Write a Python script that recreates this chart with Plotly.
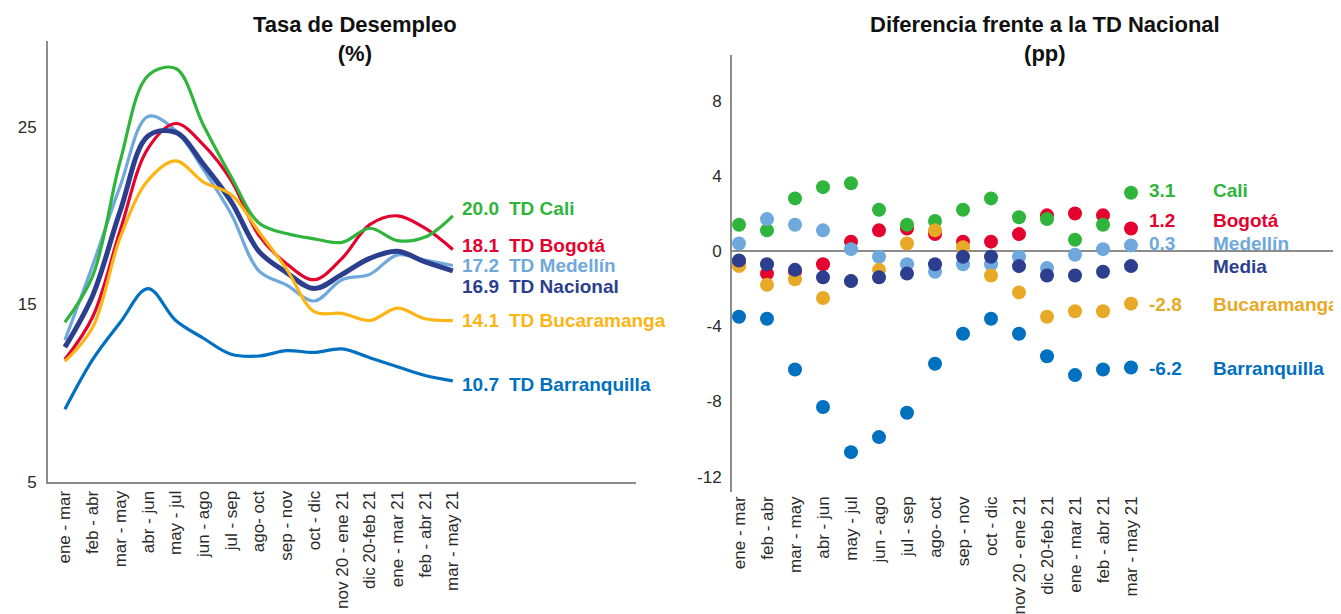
import plotly.graph_objects as go

# page offset of the plot div (default body margin) and figure size
OX, OY = 8, 8
FW, FH = 1341 - OX, 614 - OY

categories = ["ene - mar", "feb - abr", "mar - may", "abr - jun", "may - jul", "jun - ago",
              "jul - sep", "ago- oct", "sep - nov", "oct - dic", "nov 20 - ene 21",
              "dic 20-feb 21", "ene - mar 21", "feb - abr 21", "mar - may 21"]

# Left chart: unemployment rate (%)
td_nacional     = [12.6, 15.5, 20.3, 24.5, 24.7, 22.9, 20.8, 18.0, 16.8, 15.9, 16.7, 17.6, 18.0, 17.4, 16.9]
td_cali         = [14.0, 16.6, 23.1, 27.9, 28.3, 25.1, 22.2, 19.6, 19.0, 18.7, 18.5, 19.3, 18.6, 18.8, 20.0]
td_bogota       = [11.9, 14.3, 19.2, 23.8, 25.2, 24.0, 22.0, 18.9, 17.3, 16.4, 17.6, 19.5, 20.0, 19.3, 18.1]
td_medellin     = [13.0, 17.2, 21.7, 25.6, 24.8, 22.6, 20.1, 16.9, 16.1, 15.2, 16.4, 16.7, 17.8, 17.5, 17.2]
td_bucaramanga  = [11.8, 13.7, 18.8, 22.0, 23.1, 21.9, 21.2, 19.1, 17.0, 14.6, 14.5, 14.1, 14.8, 14.2, 14.1]
td_barranquilla = [9.1, 11.9, 14.0, 15.9, 14.1, 13.1, 12.2, 12.1, 12.4, 12.3, 12.5, 12.0, 11.5, 11.0, 10.7]

# Right chart: difference vs national (pp)
dif_cali         = [1.4, 1.1, 2.8, 3.4, 3.6, 2.2, 1.4, 1.6, 2.2, 2.8, 1.8, 1.7, 0.6, 1.4, 3.1]
dif_bogota       = [-0.7, -1.2, -1.1, -0.7, 0.5, 1.1, 1.2, 0.9, 0.5, 0.5, 0.9, 1.9, 2.0, 1.9, 1.2]
dif_medellin     = [0.4, 1.7, 1.4, 1.1, 0.1, -0.3, -0.7, -1.1, -0.7, -0.7, -0.3, -0.9, -0.2, 0.1, 0.3]
dif_media        = [-0.5, -0.7, -1.0, -1.4, -1.6, -1.4, -1.2, -0.7, -0.3, -0.3, -0.8, -1.3, -1.3, -1.1, -0.8]
dif_bucaramanga  = [-0.8, -1.8, -1.5, -2.5, -1.6, -1.0, 0.4, 1.1, 0.2, -1.3, -2.2, -3.5, -3.2, -3.2, -2.8]
dif_barranquilla = [-3.5, -3.6, -6.3, -8.3, -10.7, -9.9, -8.6, -6.0, -4.4, -3.6, -4.4, -5.6, -6.6, -6.3, -6.2]

left_ticks = [5, 15, 25]
left_ticktext = ["5", "15", "25"]
right_ticks = [-12, -8, -4, 0, 4, 8]
right_ticktext = ["-12", "-8", "-4", "0", "4", "8"]

GREEN = "#2fb43c"
RED = "#e4032e"
LBLUE = "#6fa8dc"
NAVY = "#2b3f8e"
YELLOW = "#fdb515"
GOLD = "#e8a926"
BLUE = "#0070c0"

FONT = "Liberation Sans, Arial, sans-serif"


def px(x):
    return (x - OX) / FW


def py(y):
    return 1 - (y - OY) / FH


# (name, values, color, width, label y offset)
left_series = [
    ("TD Barranquilla", td_barranquilla, BLUE, 3.2, -0.2),
    ("TD Medellín", td_medellin, LBLUE, 3.2, 0.0),
    ("TD Bogotá", td_bogota, RED, 3.2, 0.25),
    ("TD Nacional", td_nacional, NAVY, 5.0, -0.9),
    ("TD Bucaramanga", td_bucaramanga, YELLOW, 3.2, 0.0),
    ("TD Cali", td_cali, GREEN, 3.2, 0.4),
]

right_series = [
    ("Bogotá", dif_bogota, RED, 0.45, True),
    ("Cali", dif_cali, GREEN, 0.1, True),
    ("Medellín", dif_medellin, LBLUE, 0.1, True),
    ("Bucaramanga", dif_bucaramanga, GOLD, -0.05, True),
    ("Media", dif_media, NAVY, 0.0, False),
    ("Barranquilla", dif_barranquilla, BLUE, -0.05, True),
]

fig = go.Figure()

for name, vals, col, w, dy in left_series:
    fig.add_trace(go.Scatter(x=categories, y=vals, mode="lines", name=name,
                             line=dict(color=col, width=w, shape="spline", smoothing=1.0),
                             xaxis="x", yaxis="y", showlegend=False, hoverinfo="skip"))

for name, vals, col, dy, showval in right_series:
    fig.add_trace(go.Scatter(x=categories, y=vals, mode="markers", name=name,
                             marker=dict(color=col, size=14),
                             xaxis="x2", yaxis="y2", showlegend=False, hoverinfo="skip"))

ann = []
lab_font = dict(family=FONT, size=19)
for name, vals, col, w, dy in left_series:
    y = vals[-1] + dy
    ann.append(dict(x=14.26, y=y, xref="x", yref="y", text=f"<b>{vals[-1]:.1f}</b>",
                    showarrow=False, xanchor="left", yanchor="middle",
                    font=dict(lab_font, color=col)))
    ann.append(dict(x=15.97, y=y, xref="x", yref="y", text=f"<b>{name}</b>",
                    showarrow=False, xanchor="left", yanchor="middle",
                    font=dict(lab_font, color=col)))

for name, vals, col, dy, showval in right_series:
    y = vals[-1] + dy
    if showval:
        ann.append(dict(x=14.57, y=y, xref="x2", yref="y2", text=f"<b>{vals[-1]:.1f}</b>",
                        showarrow=False, xanchor="left", yanchor="middle",
                        font=dict(lab_font, color=col)))
    ann.append(dict(x=16.86, y=y, xref="x2", yref="y2", text=f"<b>{name}</b>",
                    showarrow=False, xanchor="left", yanchor="middle",
                    font=dict(lab_font, color=col)))

title_font = dict(family=FONT, size=22, color="#111111")
ann.append(dict(x=px(355), y=py(10), xref="paper", yref="paper",
                text="<b>Tasa de Desempleo<br>(%)</b>", showarrow=False,
                xanchor="center", yanchor="top", font=title_font))
ann.append(dict(x=px(1045), y=py(10), xref="paper", yref="paper",
                text="<b>Diferencia frente a la TD Nacional<br>(pp)</b>", showarrow=False,
                xanchor="center", yanchor="top", font=title_font))

tick_font = dict(family=FONT, size=17, color="#2a2a2a")
AX = "#8c8c8c"

fig.update_layout(
    width=FW, height=FH,
    margin=dict(l=0, r=0, t=0, b=0, pad=0, autoexpand=False),
    paper_bgcolor="white", plot_bgcolor="white",
    annotations=ann,
    xaxis=dict(domain=[px(48), px(636)], type="category", range=[-0.61, 20.61],
               showgrid=False, zeroline=False, showline=True, linecolor=AX, linewidth=2,
               tickangle=-90, tickfont=tick_font, ticks="", automargin=False, fixedrange=True),
    yaxis=dict(domain=[py(482), py(41)], range=[5, 29.85],
               tickvals=left_ticks, ticktext=left_ticktext, ticklabelstandoff=6,
               showgrid=False, zeroline=False, showline=True, linecolor=AX, linewidth=2,
               tickfont=tick_font, ticks="", automargin=False, fixedrange=True),
    xaxis2=dict(domain=[px(732), 1.0], type="category", range=[-0.25, 21.5],
                anchor="y2", showgrid=False, zeroline=False, showline=False,
                tickangle=-90, tickfont=tick_font, ticks="", automargin=False, fixedrange=True),
    yaxis2=dict(domain=[py(492), py(55)], range=[-12.82, 10.43],
                tickvals=right_ticks, ticktext=right_ticktext, ticklabelstandoff=5,
                anchor="x2", showgrid=False, zeroline=True, zerolinecolor=AX, zerolinewidth=2,
                showline=True, linecolor=AX, linewidth=2,
                tickfont=tick_font, ticks="", automargin=False, fixedrange=True),
)

fig.write_html("out.html")
